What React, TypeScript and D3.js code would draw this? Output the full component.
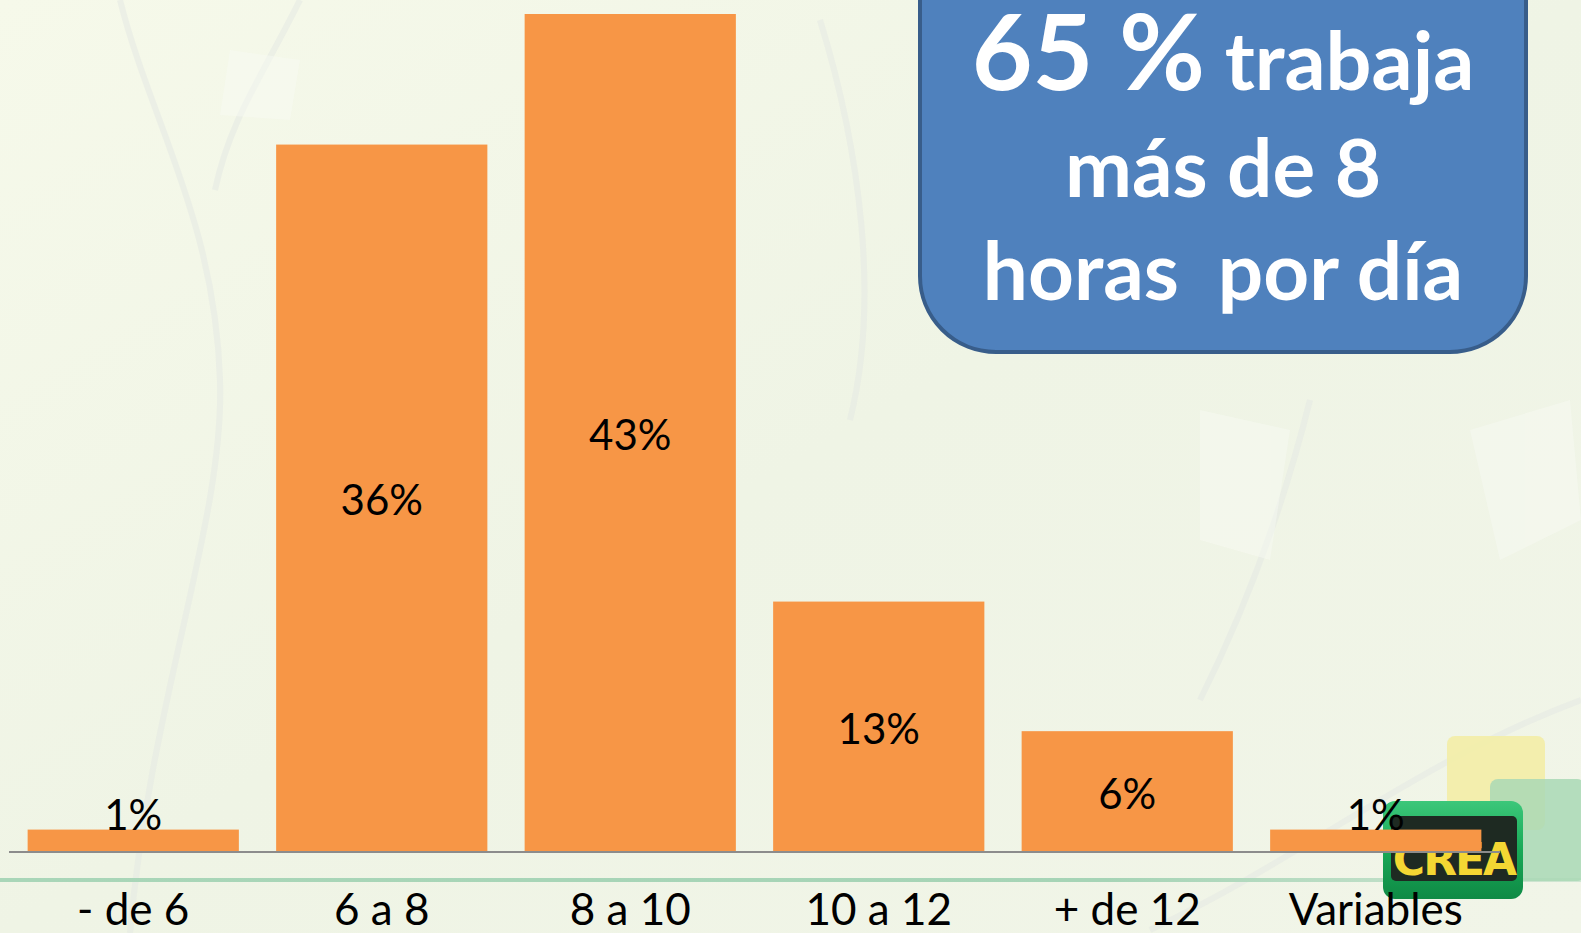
import React from "react";
import * as d3 from "d3";

const categories = ["- de 6", "6 a 8", "8 a 10", "10 a 12", "+ de 12", "Variables"];
const values = [1.15, 36.3, 43, 12.85, 6.2, 1.15];
const valueLabels = ["1%", "36%", "43%", "13%", "6%", "1%"];
const calloutBig = "65 %";
const calloutLines = ["trabaja", "más de 8", "horas  por día"];

const W = 1581;
const H = 933;
const axisY = 852;
const topY = 14;
const FONT = "Lato, 'Open Sans', sans-serif";

export default function App() {
  const x = d3
    .scaleBand<string>()
    .domain(categories)
    .range([9, 1500])
    .paddingInner(0.15)
    .paddingOuter(0.075);
  const y = d3.scaleLinear().domain([0, d3.max(values) as number]).range([axisY, topY]);
  const labelSize = 42;
  const capH = labelSize * 0.72;

  return (
    <svg
      width={W}
      height={H}
      style={{ position: "absolute", left: 0, top: 0, display: "block" }}
      fontFamily={FONT}
    >
      <defs>
        <linearGradient id="bg" x1="0" y1="0" x2="1" y2="1">
          <stop offset="0" stopColor="#f6f9ea" />
          <stop offset="0.5" stopColor="#eff4e5" />
          <stop offset="1" stopColor="#f1f5e8" />
        </linearGradient>
        <linearGradient id="gline" x1="0" y1="0" x2="1" y2="0">
          <stop offset="0" stopColor="#a9d6b8" />
          <stop offset="0.7" stopColor="#a6d4b6" />
          <stop offset="1" stopColor="#cfe6d2" />
        </linearGradient>
        <linearGradient id="logoG" x1="0" y1="0" x2="0" y2="1">
          <stop offset="0" stopColor="#3cc77a" />
          <stop offset="0.5" stopColor="#18a957" />
          <stop offset="1" stopColor="#0f8a45" />
        </linearGradient>
      </defs>
      <rect x={0} y={0} width={W} height={H} fill="url(#bg)" />
      {/* faint background branches */}
      <g fill="none" stroke="#e4e8e4" strokeWidth={6} opacity={0.5}>
        <path d="M120,0 C150,120 215,220 220,380 C225,520 150,700 130,933" />
        <path d="M300,0 C260,80 230,120 215,190" />
        <path d="M1310,400 C1280,520 1240,620 1200,700" />
        <path d="M1150,930 C1300,860 1420,760 1581,700" />
        <path d="M820,20 C860,150 880,300 850,420" />
      </g>
      <g fill="#f8fbf5" opacity={0.45}>
        <path d="M230,50 L300,60 L290,120 L220,115 Z" />
        <path d="M1200,410 L1290,430 L1270,560 L1200,540 Z" />
        <path d="M1470,430 L1570,400 L1581,520 L1500,560 Z" />
      </g>

      {/* horizontal green line */}
      <rect x={0} y={878} width={W} height={4} fill="url(#gline)" />

      {/* logo decorations */}
      <rect x={1447} y={736} width={98} height={94} rx={8} fill="#f3eda6" opacity={0.9} />
      <rect x={1490} y={779} width={95} height={102} rx={8} fill="#a9d8b5" opacity={0.85} />
      <g>
        <rect x={1383} y={801} width={140} height={98} rx={12} fill="url(#logoG)" />
        <rect x={1391} y={816} width={126} height={65} rx={5} fill="#1e2a22" />
        <text
          x={1454}
          y={875}
          textAnchor="middle"
          fontFamily="'DejaVu Sans', sans-serif"
          fontWeight={900}
          fontSize={44}
          fill="#f4d733"
          letterSpacing={-2}
        >
          CREA
        </text>
      </g>

      {/* bars */}
      {values.map((v, i) => (
        <rect
          key={categories[i]}
          x={x(categories[i])}
          y={y(v)}
          width={x.bandwidth()}
          height={axisY - y(v)}
          fill="#F79646"
        />
      ))}

      {/* axis line */}
      <line x1={9} x2={1500} y1={axisY} y2={axisY} stroke="#8c8c8c" strokeWidth={2} />

      {/* value labels */}
      {values.map((v, i) => {
        const h = axisY - y(v);
        const cx = (x(categories[i]) as number) + x.bandwidth() / 2;
        const baseY = h > capH + 10 ? (y(v) + axisY) / 2 + capH / 2 + 2 : y(v);
        return (
          <text key={"l" + i} x={cx} y={baseY} textAnchor="middle" fontSize={labelSize} fill="#000">
            {valueLabels[i]}
          </text>
        );
      })}

      {/* category labels */}
      {categories.map((c) => (
        <text
          key={"c" + c}
          x={(x(c) as number) + x.bandwidth() / 2}
          y={925}
          textAnchor="middle"
          fontSize={44}
          fill="#000"
        >
          {c}
        </text>
      ))}

      {/* callout box */}
      <rect
        x={920}
        y={-80}
        width={606}
        height={432}
        rx={76}
        ry={76}
        fill="#4F81BD"
        stroke="#385D8A"
        strokeWidth={4}
      />
      <text x={1223} y={90} textAnchor="middle" fill="#fff" fontWeight={700}>
        <tspan fontSize={105}>{calloutBig}</tspan>
        <tspan fontSize={81}> {calloutLines[0]}</tspan>
      </text>
      <text x={1223} y={197} textAnchor="middle" fill="#fff" fontWeight={700} fontSize={80}>
        {calloutLines[1]}
      </text>
      <text
        x={1223}
        y={300}
        textAnchor="middle"
        fill="#fff"
        fontWeight={700}
        fontSize={80}
        style={{ whiteSpace: "pre" }}
      >
        {calloutLines[2]}
      </text>
    </svg>
  );
}
